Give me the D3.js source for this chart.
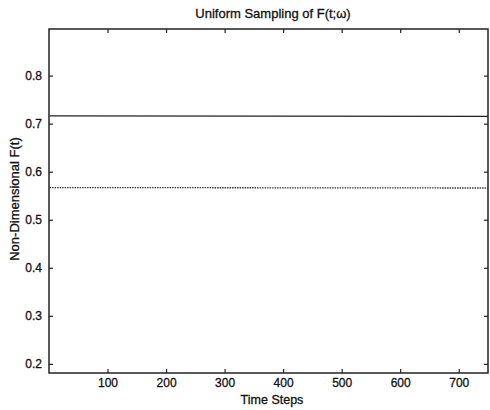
<!DOCTYPE html>
<html>
<head>
<meta charset="utf-8">
<script src="https://cdn.jsdelivr.net/npm/d3@7"></script>
<style>
  body { margin: 0; background: #fff; }
  text { font-family: "Liberation Sans", Arial, sans-serif; fill: #111; stroke: #111; stroke-width: 0.3px; }
</style>
</head>
<body>
<div id="container"></div>
<script>
/* CONSTANTS AND GLOBALS */
const width = 490;
const height = 410;
const margin = { top: 29, right: 2, bottom: 37, left: 49 };

// DATA
const timeSteps = [1, 750];
const solidSeries = [0.716, 0.715];
const dottedSeries = [0.567, 0.566];
const xTicks = [100, 200, 300, 400, 500, 600, 700];
const yTicks = [0.2, 0.3, 0.4, 0.5, 0.6, 0.7, 0.8];

const svg = d3.select("#container")
  .append("svg")
  .attr("width", width)
  .attr("height", height);

// SCALES
const xScale = d3.scaleLinear()
  .domain([0, 750])
  .range([margin.left, width - margin.right]);

const yScale = d3.scaleLinear()
  .domain([0.181, 0.897])
  .range([height - margin.bottom, margin.top]);

// AXES (MATLAB style, inward ticks on all sides)
svg.append("g")
  .attr("transform", `translate(0,${height - margin.bottom})`)
  .call(d3.axisBottom(xScale).tickValues(xTicks).tickSize(-4).tickPadding(5))
  .call(g => g.select(".domain").remove());

svg.append("g")
  .attr("transform", `translate(0,${margin.top})`)
  .call(d3.axisTop(xScale).tickValues(xTicks).tickSize(-4).tickFormat(""))
  .call(g => g.select(".domain").remove());

svg.append("g")
  .attr("transform", `translate(${margin.left},0)`)
  .call(d3.axisLeft(yScale).tickValues(yTicks).tickSize(-4).tickPadding(7).tickFormat(d3.format(".1f")))
  .call(g => g.select(".domain").remove());

svg.append("g")
  .attr("transform", `translate(${width - margin.right},0)`)
  .call(d3.axisRight(yScale).tickValues(yTicks).tickSize(-4).tickFormat(""))
  .call(g => g.select(".domain").remove());

svg.selectAll(".tick line").attr("stroke", "#222").attr("stroke-width", 1.2);
svg.selectAll(".tick text").style("font-size", "12px").style("fill", "#111");

// BOX
svg.append("rect")
  .attr("x", margin.left)
  .attr("y", margin.top)
  .attr("width", width - margin.left - margin.right)
  .attr("height", height - margin.top - margin.bottom)
  .attr("fill", "none")
  .attr("stroke", "#222")
  .attr("stroke-width", 1.5);

// LINES
const line = d3.line()
  .x((d, i) => xScale(timeSteps[i]))
  .y(d => yScale(d));

svg.append("path")
  .datum(solidSeries)
  .attr("d", line)
  .attr("fill", "none")
  .attr("stroke", "#222")
  .attr("stroke-width", 1.3);

svg.append("path")
  .datum(dottedSeries)
  .attr("d", line)
  .attr("fill", "none")
  .attr("stroke", "#333")
  .attr("stroke-width", 1.3)
  .attr("stroke-dasharray", "1.5,1");

// LABELS
svg.append("text")
  .attr("x", 273)
  .attr("y", 18)
  .attr("text-anchor", "middle")
  .style("font-size", "13px")
  .text("Uniform Sampling of F(t;\u03c9)");

svg.append("text")
  .attr("x", 272)
  .attr("y", 404)
  .attr("text-anchor", "middle")
  .style("font-size", "12.5px")
  .text("Time Steps");

svg.append("text")
  .attr("transform", "rotate(-90)")
  .attr("x", -199)
  .attr("y", 19)
  .attr("text-anchor", "middle")
  .style("font-size", "13px")
  .text("Non-Dimensional F(t)");
</script>
</body>
</html>
